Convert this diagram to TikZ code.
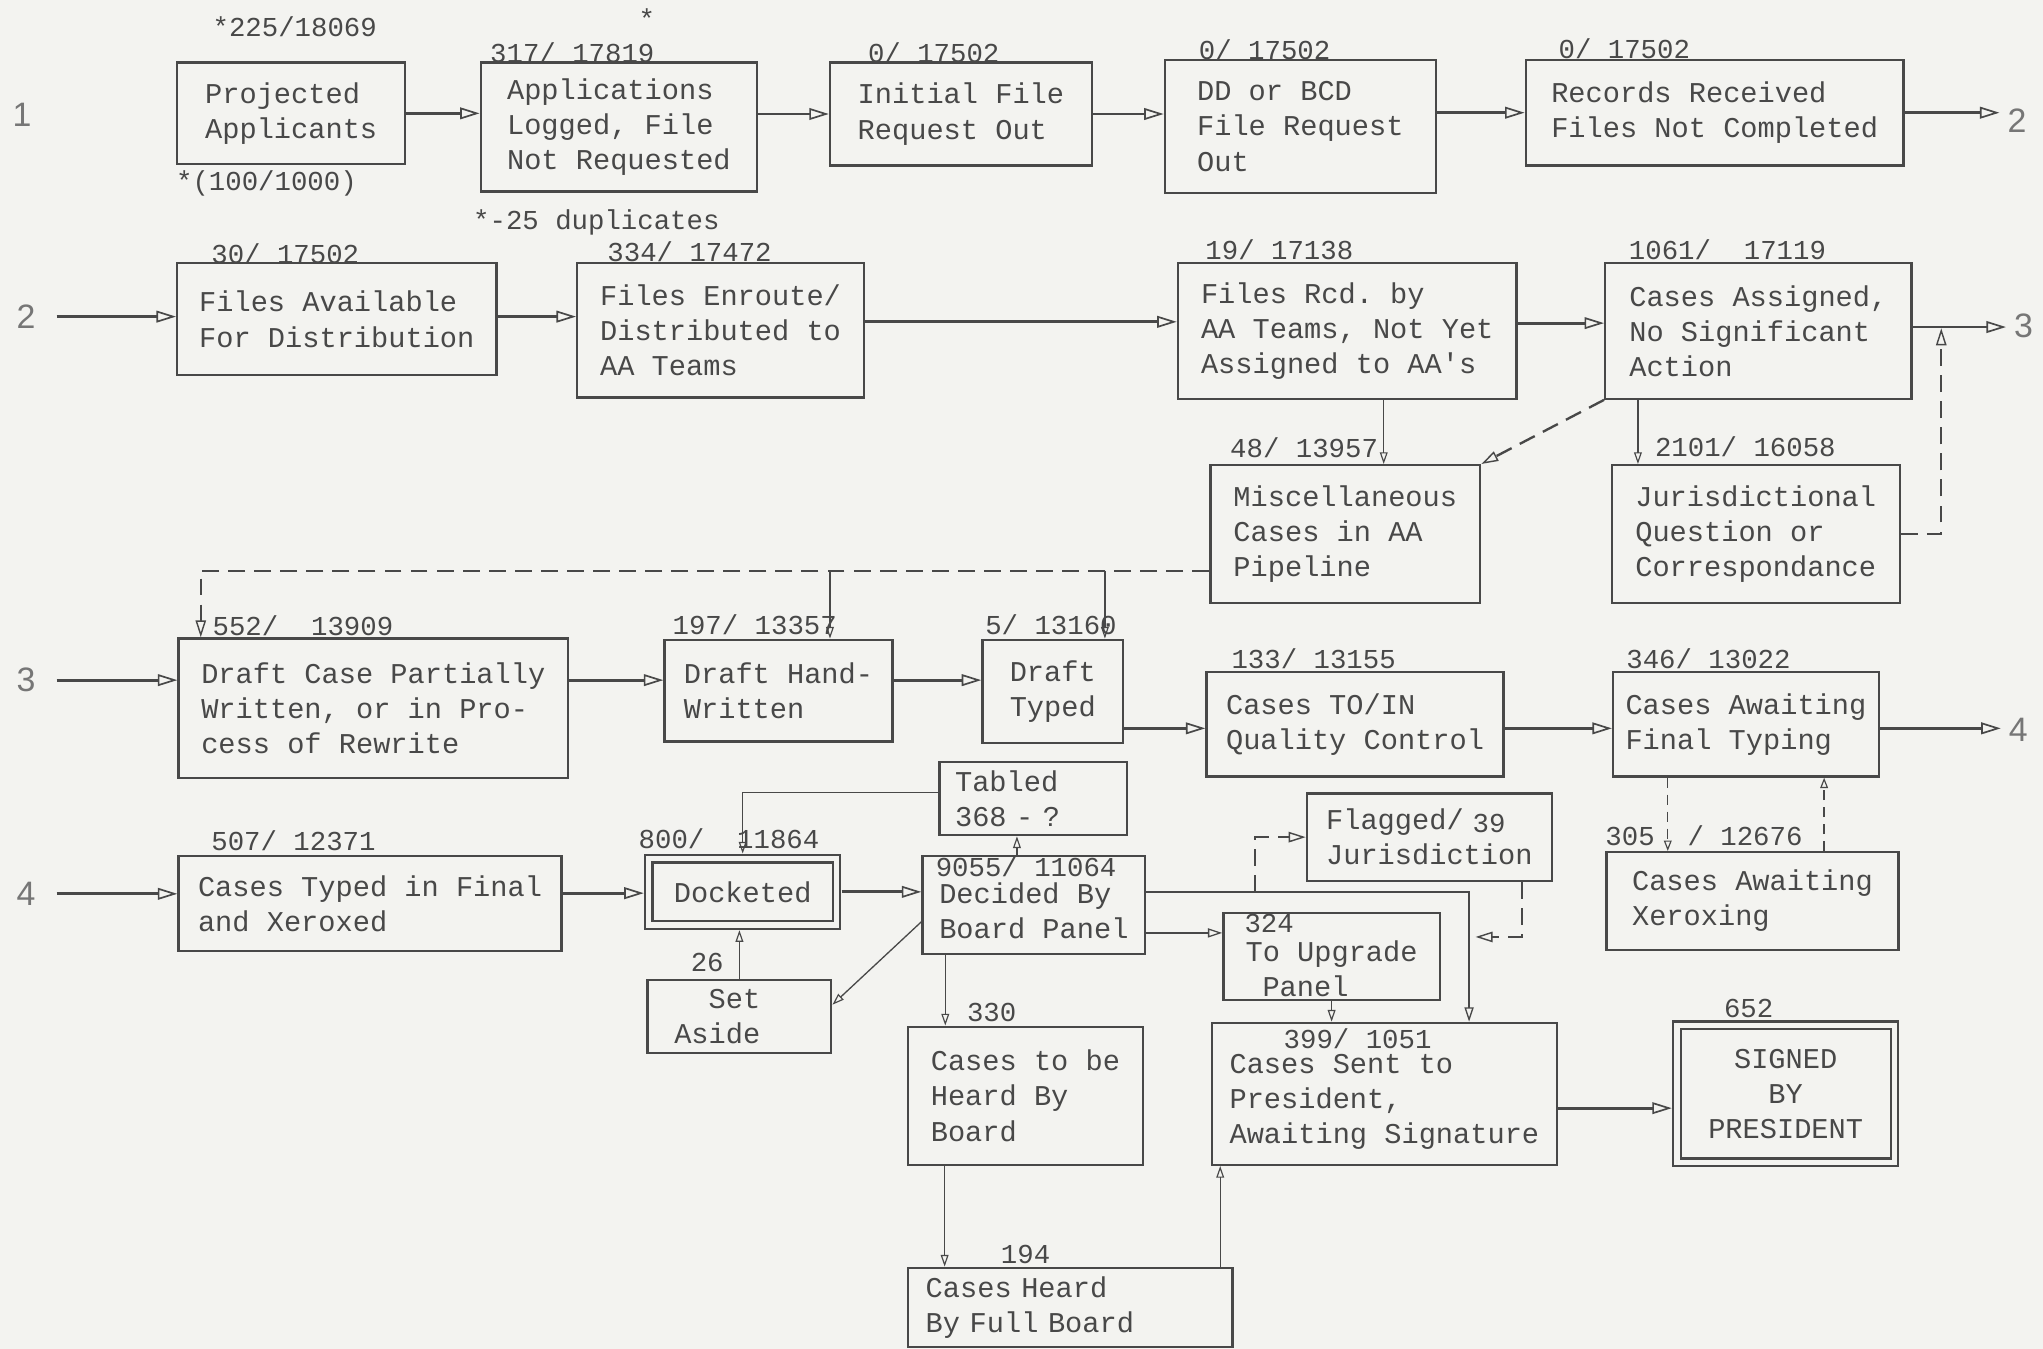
\documentclass[tikz,border=0pt]{standalone}
\usepackage{fontspec}
\setmonofont{Liberation Mono}
\newfontfamily\rowfont{Liberation Sans}
\usetikzlibrary{arrows.meta,calc}
\definecolor{paper}{RGB}{243,243,240}
\definecolor{ink}{RGB}{72,72,72}
\begin{document}
\begin{tikzpicture}[x=1pt,y=-1pt,
  box/.style={draw=ink, line width=1.8pt, text=ink, font={\ttfamily\fontsize{22pt}{27pt}\selectfont}, align=left, inner sep=0pt},
  lbl/.style={text=ink, font={\ttfamily\fontsize{21pt}{24pt}\selectfont}, inner sep=0pt, anchor=base west},
  rown/.style={text=ink!75, font={\rowfont\fontsize{26pt}{30pt}\selectfont}, inner sep=2pt},
  flow/.style={draw=ink, line width=2.2pt, -{Triangle[open,length=15pt,width=9pt,line width=1.3pt]}},
  flowb/.style={draw=ink, line width=1.8pt, -{Triangle[open,length=11pt,width=7pt,line width=1pt]}},
  thinarr/.style={draw=ink, line width=1pt, -{Triangle[open,length=9pt,width=6pt,line width=0.9pt]}},
  dsh/.style={draw=ink, line width=1.8pt, dash pattern=on 13pt off 7pt, -{Triangle[open,length=13pt,width=8pt,line width=1.1pt]}},
  dthin/.style={draw=ink, line width=1pt, dash pattern=on 8pt off 5pt, -{Triangle[open,length=8pt,width=6pt,line width=0.9pt]}}
]
\fill[paper] (0,0) rectangle (1568,1035);
\useasboundingbox (0,0) rectangle (1568,1035);

% row numbers
\node[rown] (l1) at (17,88) {1};
\node[rown] (l2) at (20,243) {2};
\node[rown] (l3) at (20,522) {3};
\node[rown] (l4) at (20,686) {4};
\node[rown] (r2) at (1548,93) {2};
\node[rown] (r3) at (1553,250) {3};
\node[rown] (r4) at (1549,560) {4};

% row 1
\node[box,minimum width=175pt,minimum height=78pt] (pa) at (223.5,87) {Projected\\Applicants};
\node[box,minimum width=212pt,minimum height=99pt] (al) at (475,97.5) {Applications\\Logged, File\\Not Requested};
\node[box,minimum width=201pt,minimum height=79pt] (ifr) at (737.5,87.5) {Initial File\\Request Out};
\node[box,minimum width=208pt,minimum height=102pt] (dd) at (998,97) {DD or BCD\\File Request\\Out};
\node[box,minimum width=290pt,minimum height=81pt] (rr) at (1316,86.5) {Records Received\\Files Not Completed};

% row 2
\node[box,minimum width=245pt,minimum height=86pt] (fa) at (258.5,245) {Files Available\\For Distribution};
\node[box,minimum width=220pt,minimum height=103pt] (fe) at (553,253.5) {Files Enroute/\\Distributed to\\AA Teams};
\node[box,minimum width=260pt,minimum height=104pt] (fr) at (1034,254) {Files Rcd. by\\AA Teams, Not Yet\\Assigned to AA's};
\node[box,minimum width=235pt,minimum height=104pt] (ca) at (1349.5,254) {Cases Assigned,\\No Significant\\Action};
\node[box,minimum width=207pt,minimum height=106pt] (mc) at (1032.5,410) {Miscellaneous\\Cases in AA\\Pipeline};
\node[box,minimum width=221pt,minimum height=106pt] (jq) at (1347.5,410) {Jurisdictional\\Question or\\Correspondance};

% row 3
\node[box,minimum width=299pt,minimum height=107pt] (dc) at (286.5,543.5) {Draft Case Partially\\Written, or in Pro-\\cess of Rewrite};
\node[box,minimum width=175pt,minimum height=78pt] (dh) at (597.5,530) {Draft Hand-\\Written};
\node[box,minimum width=108pt,minimum height=79pt] (dt) at (808,530.5) {Draft\\Typed};
\node[box,minimum width=228pt,minimum height=80pt] (qc) at (1040,556) {Cases TO/IN\\Quality Control};
\node[box,minimum width=204pt,minimum height=80pt] (ft) at (1340,556) {Cases Awaiting\\Final Typing};

% row 4
\node[box,minimum width=294pt,minimum height=73pt] (ct) at (284,693.5) {Cases Typed in Final\\and Xeroxed};
\node[box,double=paper,double distance=4pt,minimum width=144pt,minimum height=51pt] (dk) at (570,684.5) {Docketed};
\node[box,text width=120pt,minimum width=144pt,minimum height=56pt] (tb) at (793,613) {Tabled\\368 - ?};
\node[box,minimum width=171pt,minimum height=75pt] (db) at (793.5,694.5) {\rule{0pt}{25pt}Decided By\\Board Panel};
\node[box,minimum width=188pt,minimum height=67pt] (fj) at (1097,642.5) {Flagged/\\Jurisdiction};
\node[box,minimum width=166pt,minimum height=67pt] (up) at (1022,734) {\rule{0pt}{35pt}To Upgrade\\\hspace*{13pt}Panel};
\node[box,minimum width=224pt,minimum height=75pt] (cx) at (1345,691.5) {Cases Awaiting\\Xeroxing};
\node[box,text width=100pt,minimum width=141pt,minimum height=56pt] (sa) at (567.5,780) {\hspace*{26.4pt}Set\\Aside};
\node[box,minimum width=180pt,minimum height=106pt] (ch) at (787,841) {Cases to be\\Heard By\\Board};
\node[box,minimum width=265pt,minimum height=109pt] (cs) at (1062.5,839.5) {\rule{0pt}{27pt}Cases Sent to\\President,\\Awaiting Signature};
\node[box,double=paper,double distance=4pt,align=center,minimum width=167pt,minimum height=105pt] (sp) at (1370.5,839.5) {SIGNED\\BY\\PRESIDENT};
\node[box,text width=222pt,minimum width=249pt,minimum height=61pt] (cf) at (821.5,1003.5) {Cases Heard\\By Full Board};

% count labels
\node[lbl] (n1) at (163,28) {*225/18069};
\node[lbl] (n1b) at (135,146) {*(100/1000)};
\node[lbl] (n2s) at (490,22) {*};
\node[lbl] (n2) at (376,48) {317/ 17819};
\node[lbl] (n2b) at (363,176) {*-25 duplicates};
\node[lbl] (n3) at (666,48) {0/ 17502};
\node[lbl] (n4) at (920,46) {0/ 17502};
\node[lbl] (n5) at (1196,45) {0/ 17502};
\node[lbl] (n6) at (162,202) {30/ 17502};
\node[lbl] (n7) at (466,201) {334/ 17472};
\node[lbl] (n8) at (925,199) {19/ 17138};
\node[lbl] (n9) at (1250,199) {1061/\ \ 17119};
\node[lbl] (n10) at (944,351) {48/ 13957};
\node[lbl] (n11) at (1270,350) {2101/ 16058};
\node[lbl] (n12) at (163,488) {552/\ \ 13909};
\node[lbl] (n13) at (516,487) {197/ 13357};
\node[lbl] (n14) at (756,487) {5/ 13160};
\node[lbl] (n15) at (945,513) {133/ 13155};
\node[lbl] (n16) at (1248,513) {346/ 13022};
\node[lbl] (n17) at (162,653) {507/ 12371};
\node[lbl] (n18) at (490,651) {800/\ \ 11864};
\node[lbl] (n19) at (718,673) {9055/ 11064};
\node[lbl] (n20) at (1130,639) {39};
\node[lbl] (n21) at (955,716) {324};
\node[lbl] (n22) at (1232,649) {305\ \ / 12676};
\node[lbl] (n23) at (530,746) {26};
\node[lbl] (n24) at (742,784) {330};
\node[lbl] (n25) at (985,805) {399/ 1051};
\node[lbl] (n26) at (1323,781) {652};
\node[lbl] (n27) at (768,970) {194};

% row 1 connectors
\draw[flow] (pa.east) -- (pa.east -| al.west);
\draw[flow] (al.east |- ifr.west) -- (ifr.west);
\draw[flow] (ifr.east) -- (ifr.east -| dd.west);
\draw[flow] (dd.east |- rr.west) -- (rr.west);
\draw[flow,shorten >=4pt] (rr.east) -- (rr.east -| r2.west);

% row 2 connectors
\draw[flow,shorten <=14pt] (l2.east) -- (l2.east -| fa.west);
\draw[flow] ([yshift=2pt]fa.east) -- ([yshift=2pt]fa.east -| fe.west);
\draw[flow] ([yshift=7pt]fr.west -| fe.east) -- ([yshift=7pt]fr.west);
\draw[flow] ([yshift=6pt]fr.east) -- ([yshift=6pt]fr.east -| ca.west);
\draw[flow,shorten >=4pt] ([yshift=3pt]ca.east) -- ([yshift=3pt]ca.east -| r3.west);
\draw[dsh,shorten >=1pt] (jq.east) -| ([xshift=22pt,yshift=3pt]ca.east);
\draw[thinarr] ([xshift=28pt]fr.south) -- ([xshift=28pt]fr.south |- mc.north);
\draw[dsh] (ca.south west) -- (mc.north east);
\draw[thinarr] ([xshift=26pt]ca.south west) -- ([xshift=26pt]ca.south west |- jq.north);
\coordinate (mcl) at ([yshift=-28pt]mc.west);
\draw[dsh] (mcl) -| ([xshift=18pt]dc.north west);
\draw[thinarr] ([xshift=39.5pt]dh.north |- mcl) -- ([xshift=39.5pt]dh.north);
\draw[thinarr] ([xshift=40pt]dt.north |- mcl) -- ([xshift=40pt]dt.north);

% row 3 connectors
\draw[flow,shorten <=14pt] (l3.east) -- (l3.east -| dc.west);
\draw[flow] ([yshift=8pt]dh.west -| dc.east) -- ([yshift=8pt]dh.west);
\draw[flow] ([yshift=8pt]dh.east) -- ([yshift=8pt]dh.east -| dt.west);
\draw[flow] ([yshift=-3pt]qc.west -| dt.east) -- ([yshift=-3pt]qc.west);
\draw[flow] ([yshift=-3pt]qc.east) -- ([yshift=-3pt]qc.east -| ft.west);
\draw[flow,shorten >=4pt] ([yshift=-3pt]ft.east) -- ([yshift=-3pt]ft.east -| r4.west);
\draw[dthin] ([xshift=-60pt]ft.south) -- ([xshift=-60pt]ft.south |- cx.north);
\draw[dthin] ([xshift=55pt]cx.north) -- ([xshift=55pt]cx.north |- ft.south);

% row 4 connectors
\draw[flow,shorten <=14pt] (l4.east) -- (l4.east -| ct.west);
\draw[flow,shorten >=3pt] ([yshift=8pt]ct.east) -- ([yshift=8pt]ct.east -| dk.west);
\draw[flow,shorten <=3pt] (dk.east) -- (dk.east -| db.west);
\draw[thinarr] ([xshift=-13pt]db.north) -- ([xshift=-13pt]db.north |- tb.south);
\draw[thinarr,shorten >=3pt] ([yshift=5pt]tb.west) -| (dk.north);
\draw[thinarr,shorten >=3pt] (sa.north) -- (sa.north |- dk.south);
\draw[thinarr] ([yshift=-13pt]db.west) -- ([yshift=-20pt]sa.north east);
\draw[thinarr] ([xshift=-68pt]db.south) -- ([xshift=-68pt]db.south |- ch.north);
\coordinate (dbr) at ([yshift=10pt]db.east);
\draw[flowb] (dbr) -| ([xshift=65pt]cs.north);
\coordinate (fjx) at ([xshift=25pt]up.west);
\draw[dsh] (fjx |- dbr) |- (fj.west);
\draw[dsh] ([xshift=71pt]fj.south) |- ([xshift=70pt,yshift=65pt]cs.north);
\draw[flowb] ([yshift=18pt]up.west -| db.east) -- ([yshift=18pt]up.west);
\draw[thinarr] (up.south) -- (up.south |- cs.north);
\draw[thinarr] ([xshift=-62pt]ch.south) -- ([xshift=-62pt]ch.south |- cf.north);
\draw[thinarr] ([xshift=115pt]cf.north) -- ([xshift=115pt]cf.north |- cs.south);
\draw[flow,shorten >=3pt] ([yshift=-11pt]cs.east) -- ([yshift=-11pt]cs.east -| sp.west);
\end{tikzpicture}
\end{document}
